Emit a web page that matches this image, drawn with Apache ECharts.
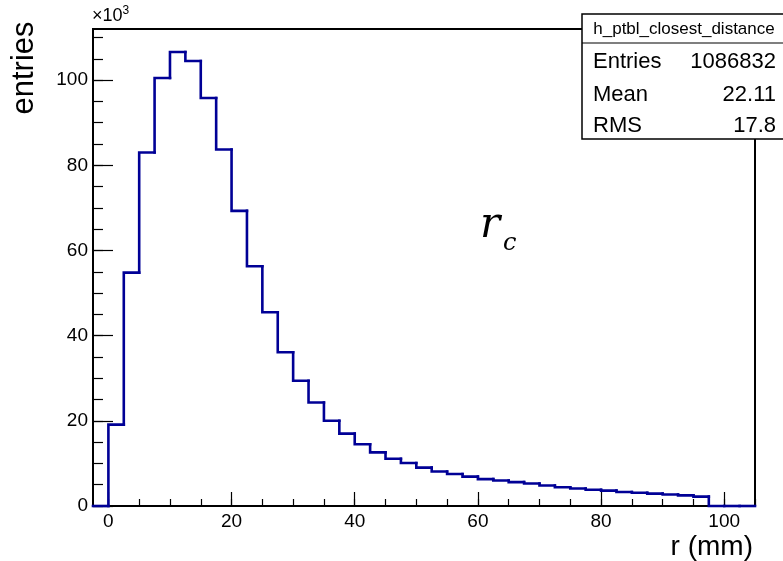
<!DOCTYPE html>
<html>
<head>
<meta charset="utf-8">
<script src="https://cdn.jsdelivr.net/npm/echarts@6/dist/echarts.min.js"></script>
<style>
html,body{margin:0;padding:0;background:#fff;}
#chart{width:783px;height:561px;}
</style>
</head>
<body>
<div id="chart"></div>
<script>
// Histogram bin edges (mm) and contents (×10^3 entries)
const binEdges = [-2.5, 0, 2.5, 5, 7.5, 10, 12.5, 15, 17.5, 20, 22.5, 25, 27.5, 30, 32.5, 35, 37.5, 40, 42.5, 45, 47.5, 50, 52.5, 55, 57.5, 60, 62.5, 65, 67.5, 70, 72.5, 75, 77.5, 80, 82.5, 85, 87.5, 90, 92.5, 95, 97.5, 100, 102.5, 105];
const binCounts = [0, 19.1, 54.8, 83.0, 100.5, 106.6, 104.5, 95.8, 83.7, 69.3, 56.3, 45.5, 36.1, 29.4, 24.3, 20.0, 17.0, 14.5, 12.6, 11.1, 10.1, 9.0, 8.1, 7.5, 6.9, 6.3, 6.0, 5.6, 5.3, 4.8, 4.4, 4.1, 3.8, 3.6, 3.3, 3.1, 2.9, 2.7, 2.5, 2.2, 0, 0, 0];
const xMajorTicks = [0, 20, 40, 60, 80, 100];
const xMinorTicks = [0, 5, 10, 15, 20, 25, 30, 35, 40, 45, 50, 55, 60, 65, 70, 75, 80, 85, 90, 95, 100, 105];
const yMajorTicks = [0, 20, 40, 60, 80, 100];
const yMinorTicks = [0, 5, 10, 15, 20, 25, 30, 35, 40, 45, 50, 55, 60, 65, 70, 75, 80, 85, 90, 95, 100, 105, 110];
const statsTitle = 'h_ptbl_closest_distance';
const statsRows = [['Entries', '1086832'], ['Mean', '22.11'], ['RMS', '17.8']];

// [low edge, high edge, content, previous bin content]
const histItems = binCounts.map((v, i) => [binEdges[i], binEdges[i + 1], v, i > 0 ? binCounts[i - 1] : 0]);

const FONT = 'Liberation Sans';
const LINE_COLOR = '#000096';
const chart = echarts.init(document.getElementById('chart'), null, {renderer: 'canvas'});

const gridBox = {left: 93, right: 28, top: 29, bottom: 55};
const rowY = [62, 95, 126];

const statsGraphics = [];
statsRows.forEach((r, i) => {
  statsGraphics.push({type: 'text', z: 11, x: 593, y: rowY[i], style: {text: r[0], fontSize: 22, fontFamily: FONT, fill: '#000', align: 'left', verticalAlign: 'middle'}});
  statsGraphics.push({type: 'text', z: 11, x: 776, y: rowY[i], style: {text: r[1], fontSize: 22, fontFamily: FONT, fill: '#000', align: 'right', verticalAlign: 'middle'}});
});

function renderBin(params, api) {
  const x0 = api.value(0), x1 = api.value(1), v = api.value(2), pv = api.value(3);
  const pPrev = api.coord([x0, pv]);
  const pA = api.coord([x0, v]);
  const pB = api.coord([x1, v]);
  return {
    type: 'polyline',
    shape: {points: [pPrev, pA, pB]},
    style: {stroke: LINE_COLOR, lineWidth: 2.6, fill: null, lineJoin: 'miter', lineCap: 'square'}
  };
}

chart.setOption({
  animation: false,
  backgroundColor: '#ffffff',
  grid: Object.assign({show: true, borderColor: '#000', borderWidth: 2, backgroundColor: 'transparent'}, gridBox),
  xAxis: [
    {
      type: 'value', min: -2.5, max: 105,
      axisLine: {show: true, onZero: false, lineStyle: {color: '#000', width: 2}},
      axisTick: {show: true, inside: true, length: 14, lineStyle: {color: '#000', width: 1.2}, customValues: xMajorTicks},
      axisLabel: {show: true, customValues: xMajorTicks, margin: 6, color: '#000', fontSize: 19, fontFamily: FONT},
      splitLine: {show: false}
    },
    {
      type: 'value', min: -2.5, max: 105, position: 'bottom', offset: 0,
      axisLine: {show: false, onZero: false},
      axisTick: {show: true, inside: true, length: 7, lineStyle: {color: '#000', width: 1.2}, customValues: xMinorTicks},
      axisLabel: {show: false},
      splitLine: {show: false}
    }
  ],
  yAxis: [
    {
      type: 'value', min: 0, max: 112,
      axisLine: {show: true, onZero: false, lineStyle: {color: '#000', width: 2}},
      axisTick: {show: true, inside: true, length: 20, lineStyle: {color: '#000', width: 1.2}, customValues: yMajorTicks},
      axisLabel: {show: true, customValues: yMajorTicks, margin: 5, color: '#000', fontSize: 19, fontFamily: FONT},
      splitLine: {show: false}
    },
    {
      type: 'value', min: 0, max: 112, position: 'left', offset: 0,
      axisLine: {show: false, onZero: false},
      axisTick: {show: true, inside: true, length: 10, lineStyle: {color: '#000', width: 1.2}, customValues: yMinorTicks},
      axisLabel: {show: false},
      splitLine: {show: false}
    }
  ],
  series: [{
    type: 'custom',
    xAxisIndex: 0, yAxisIndex: 0,
    data: histItems,
    renderItem: renderBin,
    clip: false,
    z: 5,
    encode: {x: [0, 1], y: [2, 3]}
  }],
  graphic: [
    {type: 'text', x: 92, y: 25, style: {
      text: '{a|×10}{s|3}', verticalAlign: 'bottom', rich: {
        a: {fontSize: 18, fontFamily: FONT, fill: '#000', verticalAlign: 'bottom', lineHeight: 20},
        s: {fontSize: 12, fontFamily: FONT, fill: '#000', verticalAlign: 'top', lineHeight: 20}
      }}},
    {type: 'text', x: 24, y: 68, rotation: Math.PI / 2, style: {
      text: 'entries', fontSize: 31, fontFamily: FONT, fill: '#000', align: 'center', verticalAlign: 'middle'}},
    {type: 'text', x: 753, y: 547, style: {
      text: 'r (mm)', fontSize: 28, fontFamily: FONT, fill: '#000', align: 'right', verticalAlign: 'middle'}},
    {type: 'text', x: 480, y: 226, style: {
      text: 'r', fontSize: 42, fontStyle: 'italic', fontFamily: 'DejaVu Serif', fill: '#000', align: 'left', verticalAlign: 'middle'}},
    {type: 'text', x: 503, y: 244, style: {
      text: 'c', fontSize: 24, fontStyle: 'italic', fontFamily: 'DejaVu Serif', fill: '#000', align: 'left', verticalAlign: 'middle'}},
    // stats box
    {type: 'rect', z: 10, shape: {x: 582, y: 14, width: 210, height: 125}, style: {fill: '#fff', stroke: '#000', lineWidth: 1.5}},
    {type: 'line', z: 11, shape: {x1: 582, y1: 43, x2: 783, y2: 43}, style: {stroke: '#000', lineWidth: 1.2}},
    {type: 'text', z: 11, x: 684, y: 29, style: {text: statsTitle, fontSize: 17, fontFamily: FONT, fill: '#000', align: 'center', verticalAlign: 'middle'}}
  ].concat(statsGraphics)
});
</script>
</body>
</html>
